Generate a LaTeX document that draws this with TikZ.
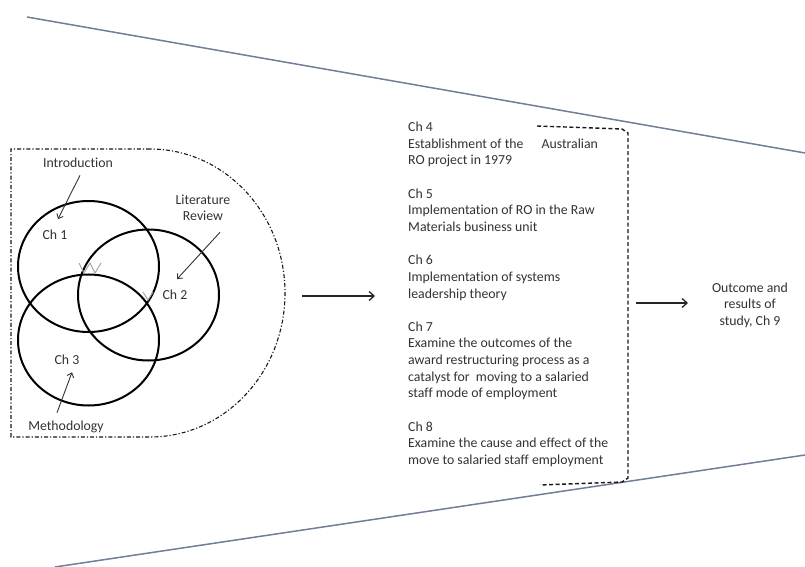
\documentclass[tikz,border=0pt]{standalone}
\usepackage{fontspec}
\setmainfont[RawFeature=-liga]{Carlito}
\usetikzlibrary{arrows.meta,shapes.geometric,calc}
\definecolor{slate}{RGB}{112,126,152}
\definecolor{ink}{RGB}{50,50,50}
\begin{document}
\begin{tikzpicture}[x=1bp,y=-1bp,
  txt/.style={font=\fontsize{13.8bp}{16.65bp}\selectfont, text=ink, inner sep=0pt, anchor=base west},
  lbl/.style={font=\fontsize{13.8bp}{16.65bp}\selectfont, text=ink, inner sep=2bp, anchor=base},
  ring/.style={draw=black, line width=2bp, ellipse, minimum width=141bp, minimum height=131bp, inner sep=0pt},
  ptr/.style={draw=black!80, line width=0.9bp, -{Straight Barb[length=4bp,width=7bp]}},
  flow/.style={draw=black!85, line width=1.3bp, -{Straight Barb[length=5bp,width=9bp]}},
  bigline/.style={draw=slate, line width=1.5bp},
  dashbox/.style={draw=black!90, line width=1.4bp, dash pattern=on 4bp off 2.5bp},
  region/.style={draw=black!90, line width=1.1bp, dash pattern=on 4bp off 2bp on 1.2bp off 2bp},
  vmark/.style={draw=black!35, line width=1bp}
]
\useasboundingbox (0,0) rectangle (805,567);

% funnel lines
\coordinate (tl) at (27,17);
\coordinate (tr) at (805,153);
\coordinate (bl) at (55,567);
\coordinate (br) at (805,455);
\draw[bigline] (tl) -- (tr);
\draw[bigline] (bl) -- (br);

% dash-dot region
\draw[region] (150,149) -- (11,149) -- (11,437) -- (150,437)
  arc[start angle=-90, end angle=90, x radius=135bp, y radius=144bp];

% circles
\node[ring] (c1) at (88.5,266.5) {};
\node[ring] (c2) at (148.5,295) {};
\node[ring] (c3) at (88.5,340) {};

% gray V marks
\draw[vmark] (79,263) -- (84,273) -- (90,263) -- (95,273) -- (101,263);
\draw[vmark] (143,292) -- (148,300) -- (153,292);

% circle labels
\node[lbl] (intro) at (78,167.5) {Introduction};
\node[lbl] (ch1) at (55,239.5) {Ch 1};
\node[lbl] (lit) at (203,204.5) {Literature};
\node[lbl] (rev) at (203,220.5) {Review};
\node[lbl] (ch2) at (175,299.5) {Ch 2};
\node[lbl] (ch3) at (67,364.5) {Ch 3};
\node[lbl] (meth) at (66,430.5) {Methodology};

\draw[ptr] ([xshift=2bp,yshift=-5.5bp]intro.south) -- ([xshift=3bp,yshift=8.6bp]ch1.north);
\draw[ptr] ([xshift=17bp,yshift=-9.5bp]rev.south) -- ([xshift=2bp,yshift=8.6bp]ch2.north);
\draw[ptr] ([xshift=-9bp,yshift=6bp]meth.north) -- ([xshift=5bp,yshift=-5.5bp]ch3.south);

% chapter text block
\foreach \k/\t in {0/{Ch 4},
  1/{Establishment of the\hspace{18bp}Australian},
  2/{RO project in 1979},
  4/{Ch 5},
  5/{Implementation of RO in the Raw},
  6/{Materials business unit},
  8/{Ch 6},
  9/{Implementation of systems},
  10/{leadership theory},
  12/{Ch 7},
  13/{Examine the outcomes of the},
  14/{award restructuring process as a},
  15/{catalyst for\ \ moving to a salaried},
  16/{staff mode of employment},
  18/{Ch 8},
  19/{Examine the cause and effect of the},
  20/{move to salaried staff employment}}
  \node[txt] (t\k) at (408,{131.5+16.65*\k}) {\t};

% dashed bracket
\draw[dashbox] (537,126) -- (622,129) -- (628,133) -- (628,478) -- (622,482) -- (540,485);

% outcome
\node[font=\fontsize{13.8bp}{16.65bp}\selectfont, text=ink, inner sep=0pt, align=center] (out) at (750,305)
  {Outcome and\\results of\\study, Ch 9};

% flow arrows
\coordinate (a1s) at (302,296);
\coordinate (a1e) at (375,296);
\coordinate (a2s) at (636,303);
\coordinate (a2e) at (688,303);
\draw[flow] (a1s) -- (a1e);
\draw[flow] (a2s) -- (a2e);
\end{tikzpicture}
\end{document}
